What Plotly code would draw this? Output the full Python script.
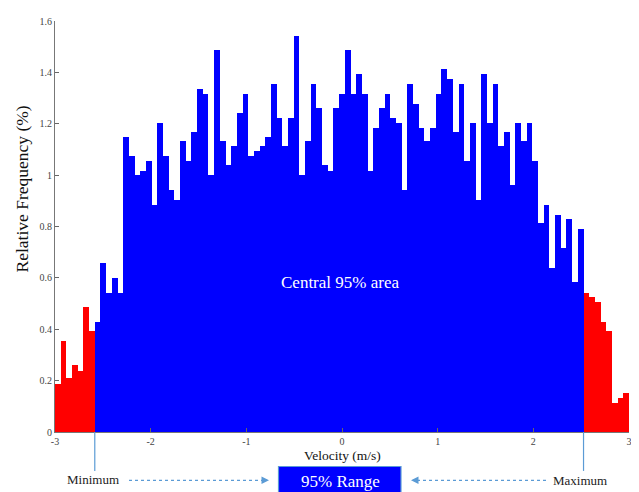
import plotly.graph_objects as go

# ---------------- data ----------------
BIN_START = -3.0
BIN_COUNT = 101
BIN_WIDTH = 6.0 / BIN_COUNT

rel_freq = [
    0.188, 0.354, 0.210, 0.259, 0.239, 0.486, 0.393,            # tail (red)
    0.428, 0.657, 0.543, 0.601, 0.543,
    1.149, 1.073, 0.999, 1.018, 1.056, 0.884, 1.202, 1.073, 0.942, 0.904,
    1.131, 1.056, 1.169, 1.336, 1.317, 0.999, 1.487, 1.131, 1.038, 1.112,
    1.242, 1.317, 1.073, 1.094, 1.112, 1.149, 1.354, 1.222, 1.112, 1.222,
    1.543, 0.999, 1.131, 1.354, 1.260, 1.038, 1.018, 1.260, 1.317, 1.487,
    1.317, 1.393, 1.317, 1.018, 1.185, 1.260, 1.317, 1.222, 1.204, 0.942,
    1.354, 1.278, 1.185, 1.131, 1.185, 1.317, 1.413, 1.376, 1.169, 1.354,
    1.056, 1.202, 0.904, 1.393, 1.202, 1.354, 1.112, 1.169, 0.961, 1.202,
    1.131, 1.204, 1.054, 0.812, 0.884, 0.639, 0.846, 0.716, 0.829, 0.583,
    0.791,
    0.543, 0.526, 0.505, 0.430, 0.393, 0.112, 0.131, 0.150,    # tail (red)
]
LOW_TAIL_BINS = 7     # bins below the 2.5th percentile
HIGH_TAIL_BINS = 8    # bins above the 97.5th percentile

x_tick_vals = [-3, -2, -1, 0, 1, 2, 3]
x_tick_text = ["-3", "-2", "-1", "0", "1", "2", "3"]
y_tick_vals = [0, 0.2, 0.4, 0.6, 0.8, 1.0, 1.2, 1.4, 1.6]
y_tick_text = ["0", "0.2", "0.4", "0.6", "0.8", "1", "1.2", "1.4", "1.6"]

# ---------------- derived ----------------
bin_centers = [BIN_START + (k + 0.5) * BIN_WIDTH for k in range(BIN_COUNT)]
min_edge = BIN_START + LOW_TAIL_BINS * BIN_WIDTH
max_edge = BIN_START + (BIN_COUNT - HIGH_TAIL_BINS) * BIN_WIDTH

BLUE = "#0000FF"
RED = "#FF0000"
LIGHT = "#5B9BD5"
colors = [RED if (k < LOW_TAIL_BINS or k >= BIN_COUNT - HIGH_TAIL_BINS) else BLUE
          for k in range(BIN_COUNT)]

OFF = 8  # page body margin
W, H = 639 - OFF, 492 - OFF
PLOT_L, PLOT_R, PLOT_T, PLOT_B = 55, 629, 15, 432   # in page pixels
ML = PLOT_L - OFF
MT = PLOT_T - OFF
PW = PLOT_R - PLOT_L
PH = PLOT_B - PLOT_T
MR = W - ML - PW
MB = H - MT - PH


def px(xp):
    return (xp - PLOT_L) / PW


def py(yp):
    return (PLOT_B - yp) / PH


SERIF = "Liberation Serif, Times New Roman, serif"

fig = go.Figure(go.Bar(
    x=bin_centers, y=rel_freq, width=BIN_WIDTH,
    marker=dict(color=colors, line=dict(width=0)),
    hoverinfo="x+y",
))

shapes = [
    dict(type="line", xref="x", yref="paper", x0=min_edge, x1=min_edge,
         y0=0, y1=py(471.5), line=dict(color=LIGHT, width=1.2)),
    dict(type="line", xref="x", yref="paper", x0=max_edge, x1=max_edge,
         y0=0, y1=py(471.5), line=dict(color=LIGHT, width=1.2)),
    dict(type="line", xref="paper", yref="paper", x0=px(129), x1=px(263),
         y0=py(481), y1=py(481), line=dict(color=LIGHT, width=1.3, dash="3px,3px")),
    dict(type="line", xref="paper", yref="paper", x0=px(417), x1=px(549),
         y0=py(481), y1=py(481), line=dict(color=LIGHT, width=1.3, dash="3px,3px")),
    dict(type="rect", xref="paper", yref="paper", x0=px(278.5), x1=px(401),
         y0=py(467), y1=py(497), fillcolor=BLUE, line=dict(color=LIGHT, width=1.2)),
]


def label(text, xp, yp, size, color, angle=0):
    return dict(text=text, x=px(xp), y=py(yp), xref="paper", yref="paper",
                xanchor="center", yanchor="middle", showarrow=False,
                textangle=angle, font=dict(family=SERIF, size=size, color=color))


annotations = [
    label("Central 95% area", 340, 280, 17, "white"),
    label("Relative Frequency (%)", 22, 186, 17.5, "#111", -90),
    label("Velocity (m/s)", 342, 456, 13.5, "#111"),
    label("Minimum", 93, 480, 13, "#222"),
    label("Maximum", 580, 481, 13, "#222"),
    label("95% Range", 340, 482, 17, "white"),
    dict(text="", x=px(269), y=py(481), xref="paper", yref="paper",
         showarrow=True, ax=-8, ay=0, arrowhead=2, arrowsize=1, arrowwidth=1.5,
         arrowcolor=LIGHT),
    dict(text="", x=px(411), y=py(481), xref="paper", yref="paper",
         showarrow=True, ax=8, ay=0, arrowhead=2, arrowsize=1, arrowwidth=1.5,
         arrowcolor=LIGHT),
]

fig.update_layout(
    width=W, height=H,
    margin=dict(l=ML, r=MR, t=MT, b=MB, pad=0),
    paper_bgcolor="white", plot_bgcolor="white",
    bargap=0, showlegend=False,
    shapes=shapes, annotations=annotations,
    font=dict(family=SERIF),
)
fig.update_xaxes(
    range=[-3, 3], tickvals=x_tick_vals, ticktext=x_tick_text,
    ticks="inside", ticklen=4, tickcolor="#666", showline=True, linecolor="#777",
    linewidth=1, showgrid=False, zeroline=False,
    tickfont=dict(family=SERIF, size=10, color="#444"),
)
fig.update_yaxes(
    range=[0, 1.6], tickvals=y_tick_vals, ticktext=y_tick_text,
    ticks="inside", ticklen=4, tickcolor="#666", showline=True, linecolor="#777",
    linewidth=1, showgrid=False, zeroline=False,
    tickfont=dict(family=SERIF, size=10, color="#444"),
)

fig.write_html("out.html")
